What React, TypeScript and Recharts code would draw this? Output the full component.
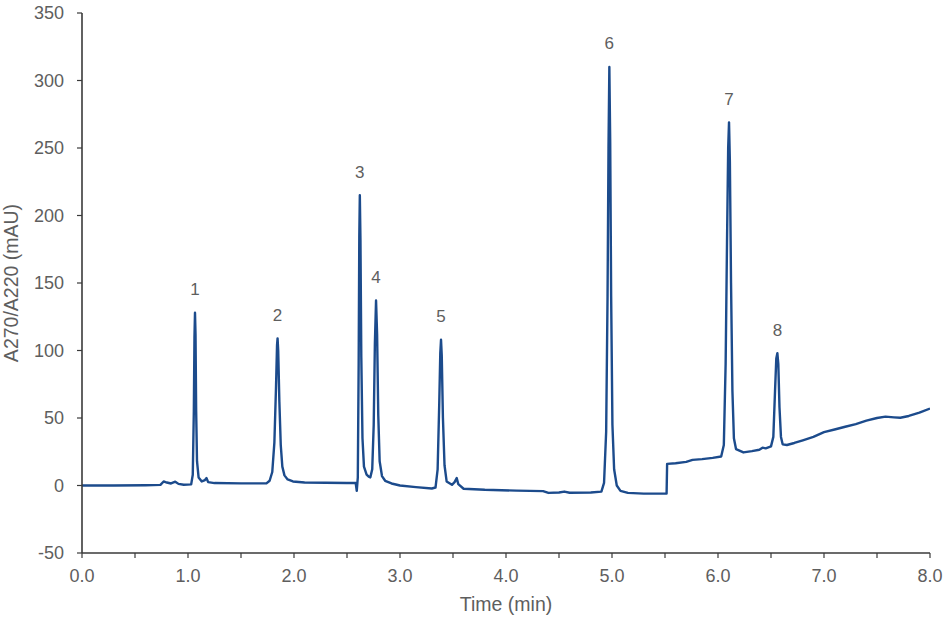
import React from "react";
import {
  LineChart,
  Line,
  Scatter,
  XAxis,
  YAxis,
  LabelList,
  Label,
} from "recharts";

// trace: [time (min), absorbance (mAU)]
const tracePoints: [number, number][] = [
  [0.0, 0], [0.3, 0], [0.6, 0.2], [0.74, 0.5], [0.77, 3], [0.8, 2.2], [0.84, 1.5],
  [0.88, 2.8], [0.91, 1.2], [0.96, 0.6], [1.03, 0.8],
  // peak 1
  [1.045, 8], [1.055, 55], [1.061, 110], [1.066, 128], [1.071, 112], [1.077, 55],
  [1.085, 18], [1.1, 6], [1.13, 3], [1.16, 4], [1.175, 5.5], [1.19, 2.5], [1.25, 1.8],
  [1.5, 1.6], [1.74, 1.6],
  // peak 2
  [1.77, 3.5], [1.795, 10], [1.815, 32], [1.83, 72], [1.84, 104], [1.845, 109],
  [1.851, 100], [1.862, 62], [1.875, 30], [1.89, 14], [1.91, 7.5], [1.94, 4.5],
  [1.99, 3], [2.1, 2.2], [2.3, 2], [2.5, 1.8], [2.582, 1.8],
  // peak 3
  [2.592, -4], [2.602, 6], [2.61, 90], [2.616, 185], [2.621, 215], [2.627, 182],
  [2.635, 95], [2.646, 35], [2.66, 14], [2.685, 8], [2.705, 6.5], [2.72, 6],
  // peak 4
  [2.738, 12], [2.752, 45], [2.763, 105], [2.774, 137], [2.784, 112], [2.795, 52],
  [2.808, 18], [2.83, 7], [2.86, 3.5], [2.92, 1.5], [3.0, 0], [3.15, -1.2],
  [3.3, -2.2],
  // peak 5
  [3.335, -1.5], [3.355, 12], [3.37, 60], [3.38, 98], [3.387, 108], [3.394, 96],
  [3.405, 50], [3.42, 15], [3.44, 3], [3.49, 0.5], [3.515, 2.5], [3.535, 5.5],
  [3.55, 1], [3.6, -2.4], [3.8, -3.2], [4.1, -3.8], [4.35, -4.2], [4.4, -5.5],
  [4.5, -5.2], [4.55, -4.5], [4.6, -5.4], [4.8, -5.2], [4.9, -4.5],
  // peak 6
  [4.925, 2], [4.945, 40], [4.958, 140], [4.967, 250], [4.975, 310], [4.983, 255],
  [4.992, 140], [5.004, 45], [5.02, 12], [5.045, 0], [5.08, -4], [5.15, -5.5],
  [5.3, -6], [5.515, -6],
  // baseline step
  [5.52, 16], [5.6, 16.5], [5.7, 17.5], [5.76, 19], [5.85, 19.5], [5.95, 20.5],
  [6.03, 21.5],
  // peak 7
  [6.055, 30], [6.072, 90], [6.085, 180], [6.096, 250], [6.104, 269], [6.112, 240],
  [6.123, 150], [6.136, 70], [6.15, 35], [6.17, 27], [6.24, 24.5], [6.32, 25.5],
  [6.39, 26.5], [6.42, 28], [6.45, 27.5],
  // peak 8
  [6.5, 29], [6.522, 36], [6.538, 70], [6.55, 94], [6.56, 98], [6.569, 90],
  [6.58, 58], [6.594, 36], [6.61, 30.5], [6.65, 30], [6.72, 31.5], [6.8, 33.5],
  [6.9, 36], [7.0, 39.5], [7.1, 41.5], [7.2, 43.5], [7.3, 45.5], [7.4, 48],
  [7.5, 50], [7.58, 51], [7.66, 50.5], [7.72, 50.2], [7.8, 51.5], [7.9, 54],
  [8.0, 57],
];

const peakTimes = [1.066, 1.845, 2.621, 2.774, 3.387, 4.975, 6.104, 6.56];
const peakHeights = [128, 109, 215, 137, 108, 310, 269, 98];
const peakNames = ["1", "2", "3", "4", "5", "6", "7", "8"];

const xTicks = [0, 0.5, 1, 1.5, 2, 2.5, 3, 3.5, 4, 4.5, 5, 5.5, 6, 6.5, 7, 7.5, 8];
const yTicks = [-50, 0, 50, 100, 150, 200, 250, 300, 350];

const trace = tracePoints.map(([t, v]) => ({ t, v }));
const peaks = peakTimes.map((t, i) => ({ t, v: peakHeights[i], name: peakNames[i] }));

const LINE = "#1c4b8c";
const AXIS = "#3a3a3a";
const TEXT = "#5e5e5e";
const FONT = "'Liberation Sans', Arial, sans-serif";

const YTitle = (props: any) => {
  const vb = props.viewBox || {};
  const cx = 11;
  const cy = (vb.y ?? 0) + (vb.height ?? 0) / 2;
  return (
    <text
      x={cx}
      y={cy}
      transform={`rotate(-90 ${cx} ${cy})`}
      textAnchor="middle"
      dominantBaseline="central"
      fill={TEXT}
      fontSize={19.5}
      fontFamily={FONT}
    >
      A270/A220 (mAU)
    </text>
  );
};

export default function App() {
  return (
    <div style={{ position: "fixed", left: 0, top: 0, background: "#fff" }}>
      <LineChart
        width={946}
        height={620}
        data={trace}
        margin={{ top: 13, right: 16, bottom: 0, left: 0 }}
        style={{ fontFamily: FONT }}
      >
        <XAxis
          dataKey="t"
          type="number"
          domain={[0, 8]}
          ticks={xTicks}
          tickFormatter={(v: number) => (Number.isInteger(v) ? v.toFixed(1) : "")}
          interval={0}
          height={67}
          tickSize={5}
          tickMargin={11}
          tick={{ fill: TEXT, fontSize: 18 }}
          axisLine={{ stroke: AXIS, strokeWidth: 1.6 }}
          tickLine={{ stroke: AXIS, strokeWidth: 1.2 }}
          allowDataOverflow
        >
          <Label
            value="Time (min)"
            position="insideBottom"
            offset={9}
            fill={TEXT}
            fontSize={19.5}
          />
        </XAxis>
        <YAxis
          type="number"
          domain={[-50, 350]}
          ticks={yTicks}
          interval={0}
          width={82}
          tickSize={5}
          tickMargin={13}
          tick={{ fill: TEXT, fontSize: 18 }}
          axisLine={{ stroke: AXIS, strokeWidth: 1.6 }}
          tickLine={{ stroke: AXIS, strokeWidth: 1.2 }}
          allowDataOverflow
        >
          <Label content={YTitle} />
        </YAxis>
        <Line
          type="linear"
          dataKey="v"
          stroke={LINE}
          strokeWidth={2.4}
          dot={false}
          activeDot={false}
          strokeLinejoin="round"
          isAnimationActive={false}
        />
        <Scatter
          data={peaks}
          dataKey="v"
          shape={() => <g />}
          isAnimationActive={false}
        >
          <LabelList
            dataKey="name"
            position="top"
            offset={13}
            fill={TEXT}
            fontSize={17}
          />
        </Scatter>
      </LineChart>
    </div>
  );
}
